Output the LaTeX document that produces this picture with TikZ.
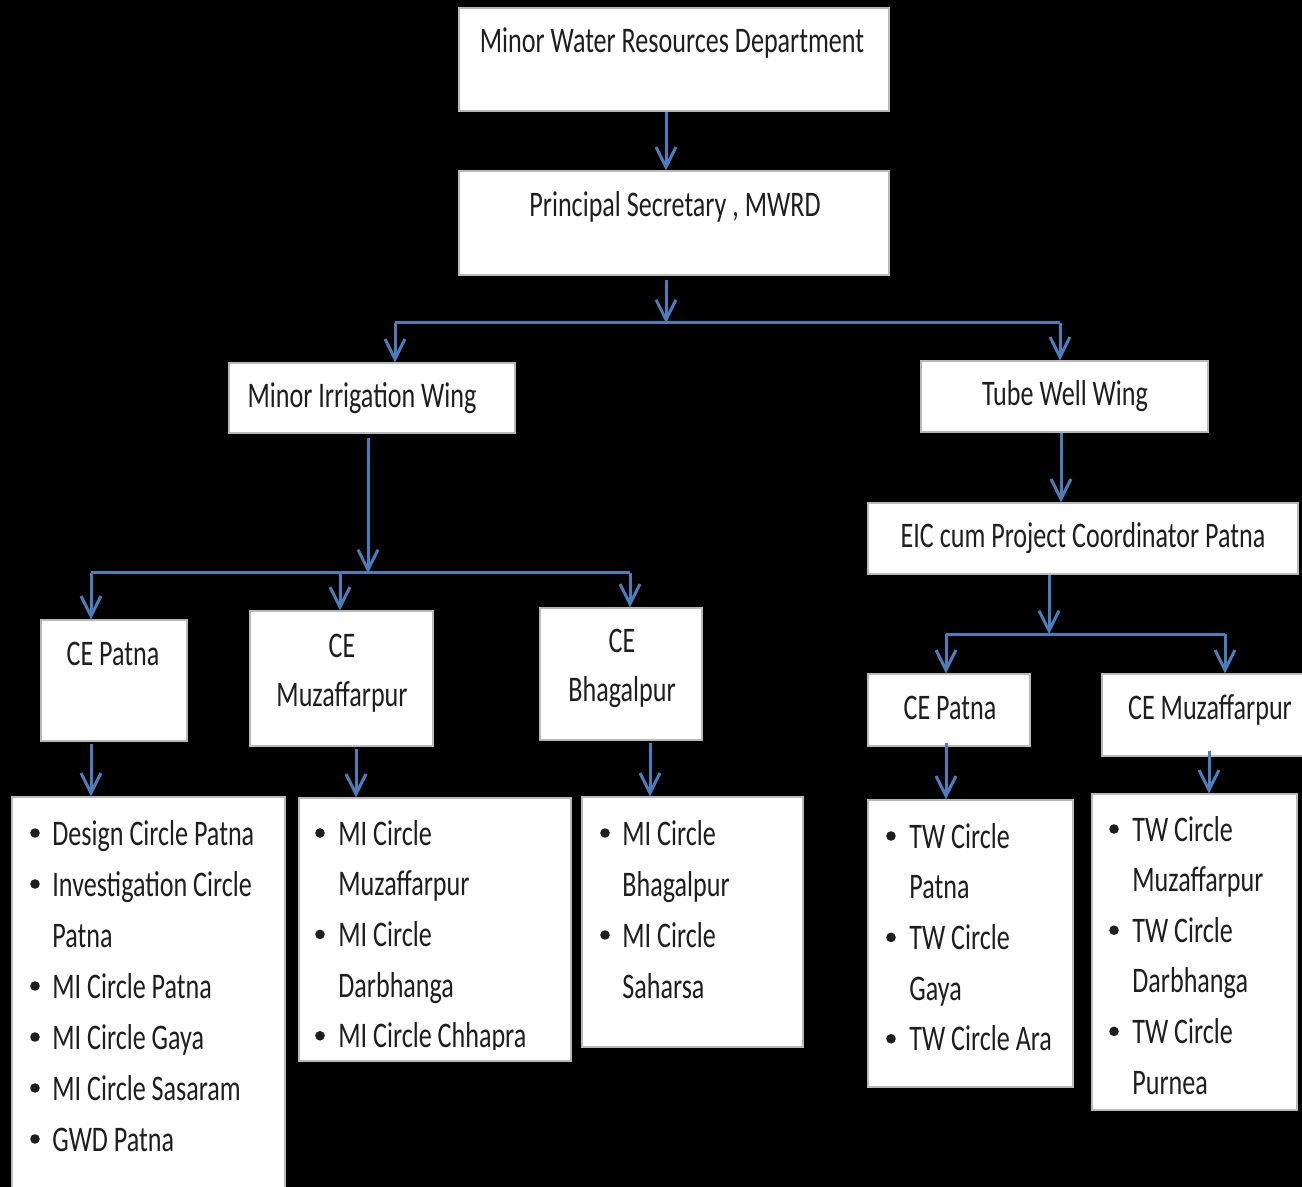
\documentclass[tikz,border=0pt]{standalone}
\usepackage{fontspec}
\setmainfont{Carlito}[FakeStretch=0.725]
\usetikzlibrary{arrows.meta,fit}
\definecolor{arrblue}{HTML}{4A7EBB}
\definecolor{txtc}{HTML}{1E1E1E}
\newcommand\fs{\fontsize{18pt}{25.5pt}\selectfont}
\begin{document}
\begin{tikzpicture}[x=0.5pt,y=-0.5pt,
  box/.style={fill=white,draw=gray!55,line width=0.6pt,inner sep=0pt},
  head/.style={inner sep=0pt,anchor=base,font=\fs,text=txtc},
  item/.style={inner sep=0pt,anchor=base west,font=\fs,text=txtc},
  arr/.style={draw=arrblue,line width=1.5pt,-{Straight Barb[length=10pt,width=10pt]}},
  conn/.style={draw=arrblue,line width=1.5pt}]
\useasboundingbox (0,0) rectangle (1302,1187);
\clip (0,0) rectangle (1302,1187);
\fill[black] (0,0) rectangle (1302,1187);
% box corners
\coordinate (mwrd1) at (459,8);    \coordinate (mwrd2) at (889,111);
\coordinate (ps1) at (459,171);    \coordinate (ps2) at (889,275);
\coordinate (miw1) at (229,363);   \coordinate (miw2) at (515,433);
\coordinate (tww1) at (921,361);   \coordinate (tww2) at (1208,432);
\coordinate (eic1) at (868,503);   \coordinate (eic2) at (1298,574);
\coordinate (cep1) at (41,620);    \coordinate (cep2) at (187,741);
\coordinate (cem1) at (250,611);   \coordinate (cem2) at (433,746);
\coordinate (ceb1) at (540,608);   \coordinate (ceb2) at (702,740);
\coordinate (lo1) at (12,797);     \coordinate (lo2) at (285,1200);
\coordinate (lt1) at (299,798);    \coordinate (lt2) at (571,1061);
\coordinate (lh1) at (582,797);    \coordinate (lh2) at (803,1047);
\coordinate (tcp1) at (868,674);   \coordinate (tcp2) at (1030,746);
\coordinate (tcm1) at (1102,674);  \coordinate (tcm2) at (1310,756);
\coordinate (tla1) at (868,800);   \coordinate (tla2) at (1073,1087);
\coordinate (tlb1) at (1092,794);  \coordinate (tlb2) at (1297,1110);
\foreach \n in {mwrd,ps,miw,tww,eic,cep,cem,ceb,lo,lt,lh,tcp,tcm,tla,tlb}
  \node[box,fit=(\n1)(\n2)] (\n) {};
% header texts
\node[head] (tmwrd) at (672,53) {Minor Water Resources Department};
\node[head] (tps) at (675,217) {Principal Secretary , MWRD};
\node[head] (tmiw) at (362,408) {Minor Irrigation Wing};
\node[head] (ttww) at (1065,406) {Tube Well Wing};
\node[head] (teic) at (1083,548) {EIC cum Project Coordinator Patna};
\node[head] (tcep) at (113,665) {CE Patna};
\node[head] (tcema) at (342,657) {CE};
\node[head] (tcemb) at (342,706) {Muzaffarpur};
\node[head] (tceba) at (622,653) {CE};
\node[head] (tcebb) at (622,701) {Bhagalpur};
\node[head] (ttcp) at (950,719) {CE Patna};
\node[head] (ttcm) at (1210,719) {CE Muzaffarpur};
% lists
\foreach \t/\b [count=\i from 0] in {Design Circle Patna/1,Investigation Circle/1,Patna/0,MI Circle Patna/1,MI Circle Gaya/1,MI Circle Sasaram/1,GWD Patna/1}{
  \node[item] (lo-\i) at (52,{845+51*\i}) {\t};
  \ifnum\b=1\relax \fill[txtc] (35,{833+51*\i}) circle[radius=2.4pt];\fi
}
\begin{scope}
\clip (299,798) rectangle (571,1049);
\foreach \t/\b [count=\i from 0] in {MI Circle/1,Muzaffarpur/0,MI Circle/1,Darbhanga/0,MI Circle Chhapra/1}{
  \node[item] (lt-\i) at (338,{845+50.7*\i}) {\t};
  \ifnum\b=1\relax \fill[txtc] (320,{833+50.7*\i}) circle[radius=2.4pt];\fi
}
\end{scope}
\foreach \t/\b [count=\i from 0] in {MI Circle/1,Bhagalpur/0,MI Circle/1,Saharsa/0}{
  \node[item] (lh-\i) at (622,{845+51*\i}) {\t};
  \ifnum\b=1\relax \fill[txtc] (605,{833+51*\i}) circle[radius=2.4pt];\fi
}
\foreach \t/\b [count=\i from 0] in {TW Circle/1,Patna/0,TW Circle/1,Gaya/0,TW Circle Ara/1}{
  \node[item] (tla-\i) at (909,{848+50.7*\i}) {\t};
  \ifnum\b=1\relax \fill[txtc] (891,{836+50.7*\i}) circle[radius=2.4pt];\fi
}
\foreach \t/\b [count=\i from 0] in {TW Circle/1,Muzaffarpur/0,TW Circle/1,Darbhanga/0,TW Circle/1,Purnea/0}{
  \node[item] (tlb-\i) at (1132,{841+50.6*\i}) {\t};
  \ifnum\b=1\relax \fill[txtc] (1114,{829+50.6*\i}) circle[radius=2.4pt];\fi
}
% connector columns / junctions
\coordinate (cA) at (666,0);
\coordinate (cB) at (368,0);
\coordinate (cC) at (356,0);
\coordinate (cD) at (650,0);
\coordinate (cE) at (1061,0);
\coordinate (cF) at (1049,0);
\coordinate (cG) at (1209,0);
\coordinate (hL1) at (395,323);  \coordinate (hR1) at (1060,323);
\coordinate (hL2) at (91,573);   \coordinate (hM2) at (340,573);  \coordinate (hR2) at (630,573);
\coordinate (hL3) at (946,634);  \coordinate (hR3) at (1225,634);
% connectors
\draw[arr] (mwrd.south -| cA) -- (ps.north -| cA);
\draw[conn] (hL1) -- (hR1);
\draw[arr] ([yshift=-2pt]ps.south -| cA) -- (cA |- hL1);
\draw[arr] (hL1) -- (miw.north -| hL1);
\draw[arr] (hR1) -- (tww.north -| hR1);
\draw[conn] (hL2) -- (hR2);
\draw[arr] ([yshift=-2pt]miw.south -| cB) -- (cB |- hL2);
\draw[arr] (hL2) -- (cep.north -| hL2);
\draw[arr] (hM2) -- (cem.north -| hM2);
\draw[arr] (hR2) -- (ceb.north -| hR2);
\draw[arr] ([yshift=-1pt]cep.south -| hL2) -- (lo.north -| hL2);
\draw[arr] ([yshift=-1pt]cem.south -| cC) -- (lt.north -| cC);
\draw[arr] ([yshift=-1pt]ceb.south -| cD) -- (lh.north -| cD);
\draw[arr] (tww.south -| cE) -- (eic.north -| cE);
\draw[conn] (hL3) -- (hR3);
\draw[arr] (eic.south -| cF) -- (cF |- hL3);
\draw[arr] (hL3) -- (tcp.north -| hL3);
\draw[arr] (hR3) -- (tcm.north -| hR3);
\draw[arr] ([yshift=2pt]tcp.south -| hL3) -- (tla.north -| hL3);
\draw[arr] ([yshift=3pt]tcm.south -| cG) -- (tlb.north -| cG);
\end{tikzpicture}
\end{document}
